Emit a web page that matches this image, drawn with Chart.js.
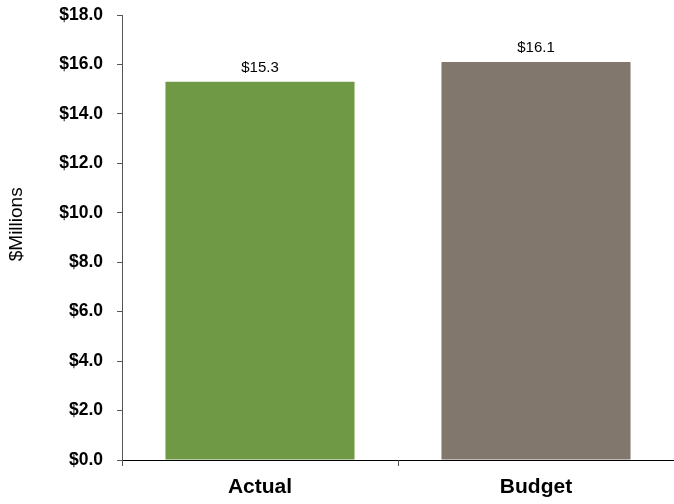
<!DOCTYPE html>
<html>
<head>
<meta charset="utf-8">
<script src="https://cdn.jsdelivr.net/npm/chart.js@4/dist/chart.umd.min.js"></script>
<style>
  html, body { margin: 0; padding: 0; background: #fff; }
  #wrap { width: 674px; height: 504px; }
</style>
</head>
<body>
<div id="wrap"><canvas id="myChart" width="674" height="504"></canvas></div>
<script>
var categories = ['Actual', 'Budget'];
var values = [15.3, 16.1];
var barColors = ['#709946', '#81776c'];
var yTicks = [0, 2, 4, 6, 8, 10, 12, 14, 16, 18];

var fontFamily = '"Liberation Sans", Arial, sans-serif';

// draw the value above each bar
var barLabels = {
  id: 'barLabels',
  afterDatasetsDraw: function (chart) {
    var ctx = chart.ctx;
    var meta = chart.getDatasetMeta(0);
    ctx.save();
    ctx.font = '15px ' + fontFamily;
    ctx.fillStyle = '#000';
    ctx.textAlign = 'center';
    ctx.textBaseline = 'alphabetic';
    meta.data.forEach(function (bar, i) {
      ctx.fillText('$' + values[i].toFixed(1), bar.x, bar.y - 10);
    });
    ctx.restore();
  }
};

var ctx = document.getElementById('myChart').getContext('2d');
var myChart = new Chart(ctx, {
  type: 'bar',
  data: {
    labels: categories,
    datasets: [{
      data: values,
      backgroundColor: barColors,
      borderWidth: 0,
      categoryPercentage: 1,
      barPercentage: 0.685
    }]
  },
  plugins: [barLabels],
  options: {
    responsive: false,
    animation: false,
    layout: { padding: { top: 15, right: 0, bottom: 0, left: 0 } },
    plugins: {
      legend: { display: false },
      tooltip: { enabled: false }
    },
    scales: {
      x: {
        grid: { offset: true, drawOnChartArea: false, drawTicks: true, tickLength: 6, color: '#555' },
        border: { color: '#000', width: 1 },
        ticks: {
          color: '#000',
          padding: 9,
          font: { family: fontFamily, size: 21, weight: 'bold' }
        },
        afterFit: function (scale) {
          scale.height = 44;
          scale.paddingLeft = 0;
          scale.paddingRight = 0;
        }
      },
      y: {
        min: 0,
        max: 18,
        afterBuildTicks: function (scale) {
          scale.ticks = yTicks.map(function (v) { return { value: v }; });
        },
        grid: { drawOnChartArea: false, drawTicks: true, tickLength: 5, color: '#555' },
        border: { color: '#555', width: 1 },
        title: {
          display: true,
          // leading spaces nudge the title up a bit, like the original
          text: '     $Millions',
          color: '#000',
          padding: { top: 5, bottom: 0 },
          font: { family: fontFamily, size: 19 }
        },
        ticks: {
          color: '#000',
          padding: 14,
          font: { family: fontFamily, size: 17.5, weight: 'bold' },
          callback: function (v) { return '$' + Number(v).toFixed(1); }
        },
        afterFit: function (scale) {
          scale.width = 122;
          scale.paddingTop = 0;
          scale.paddingBottom = 0;
        }
      }
    }
  }
});
</script>
</body>
</html>
